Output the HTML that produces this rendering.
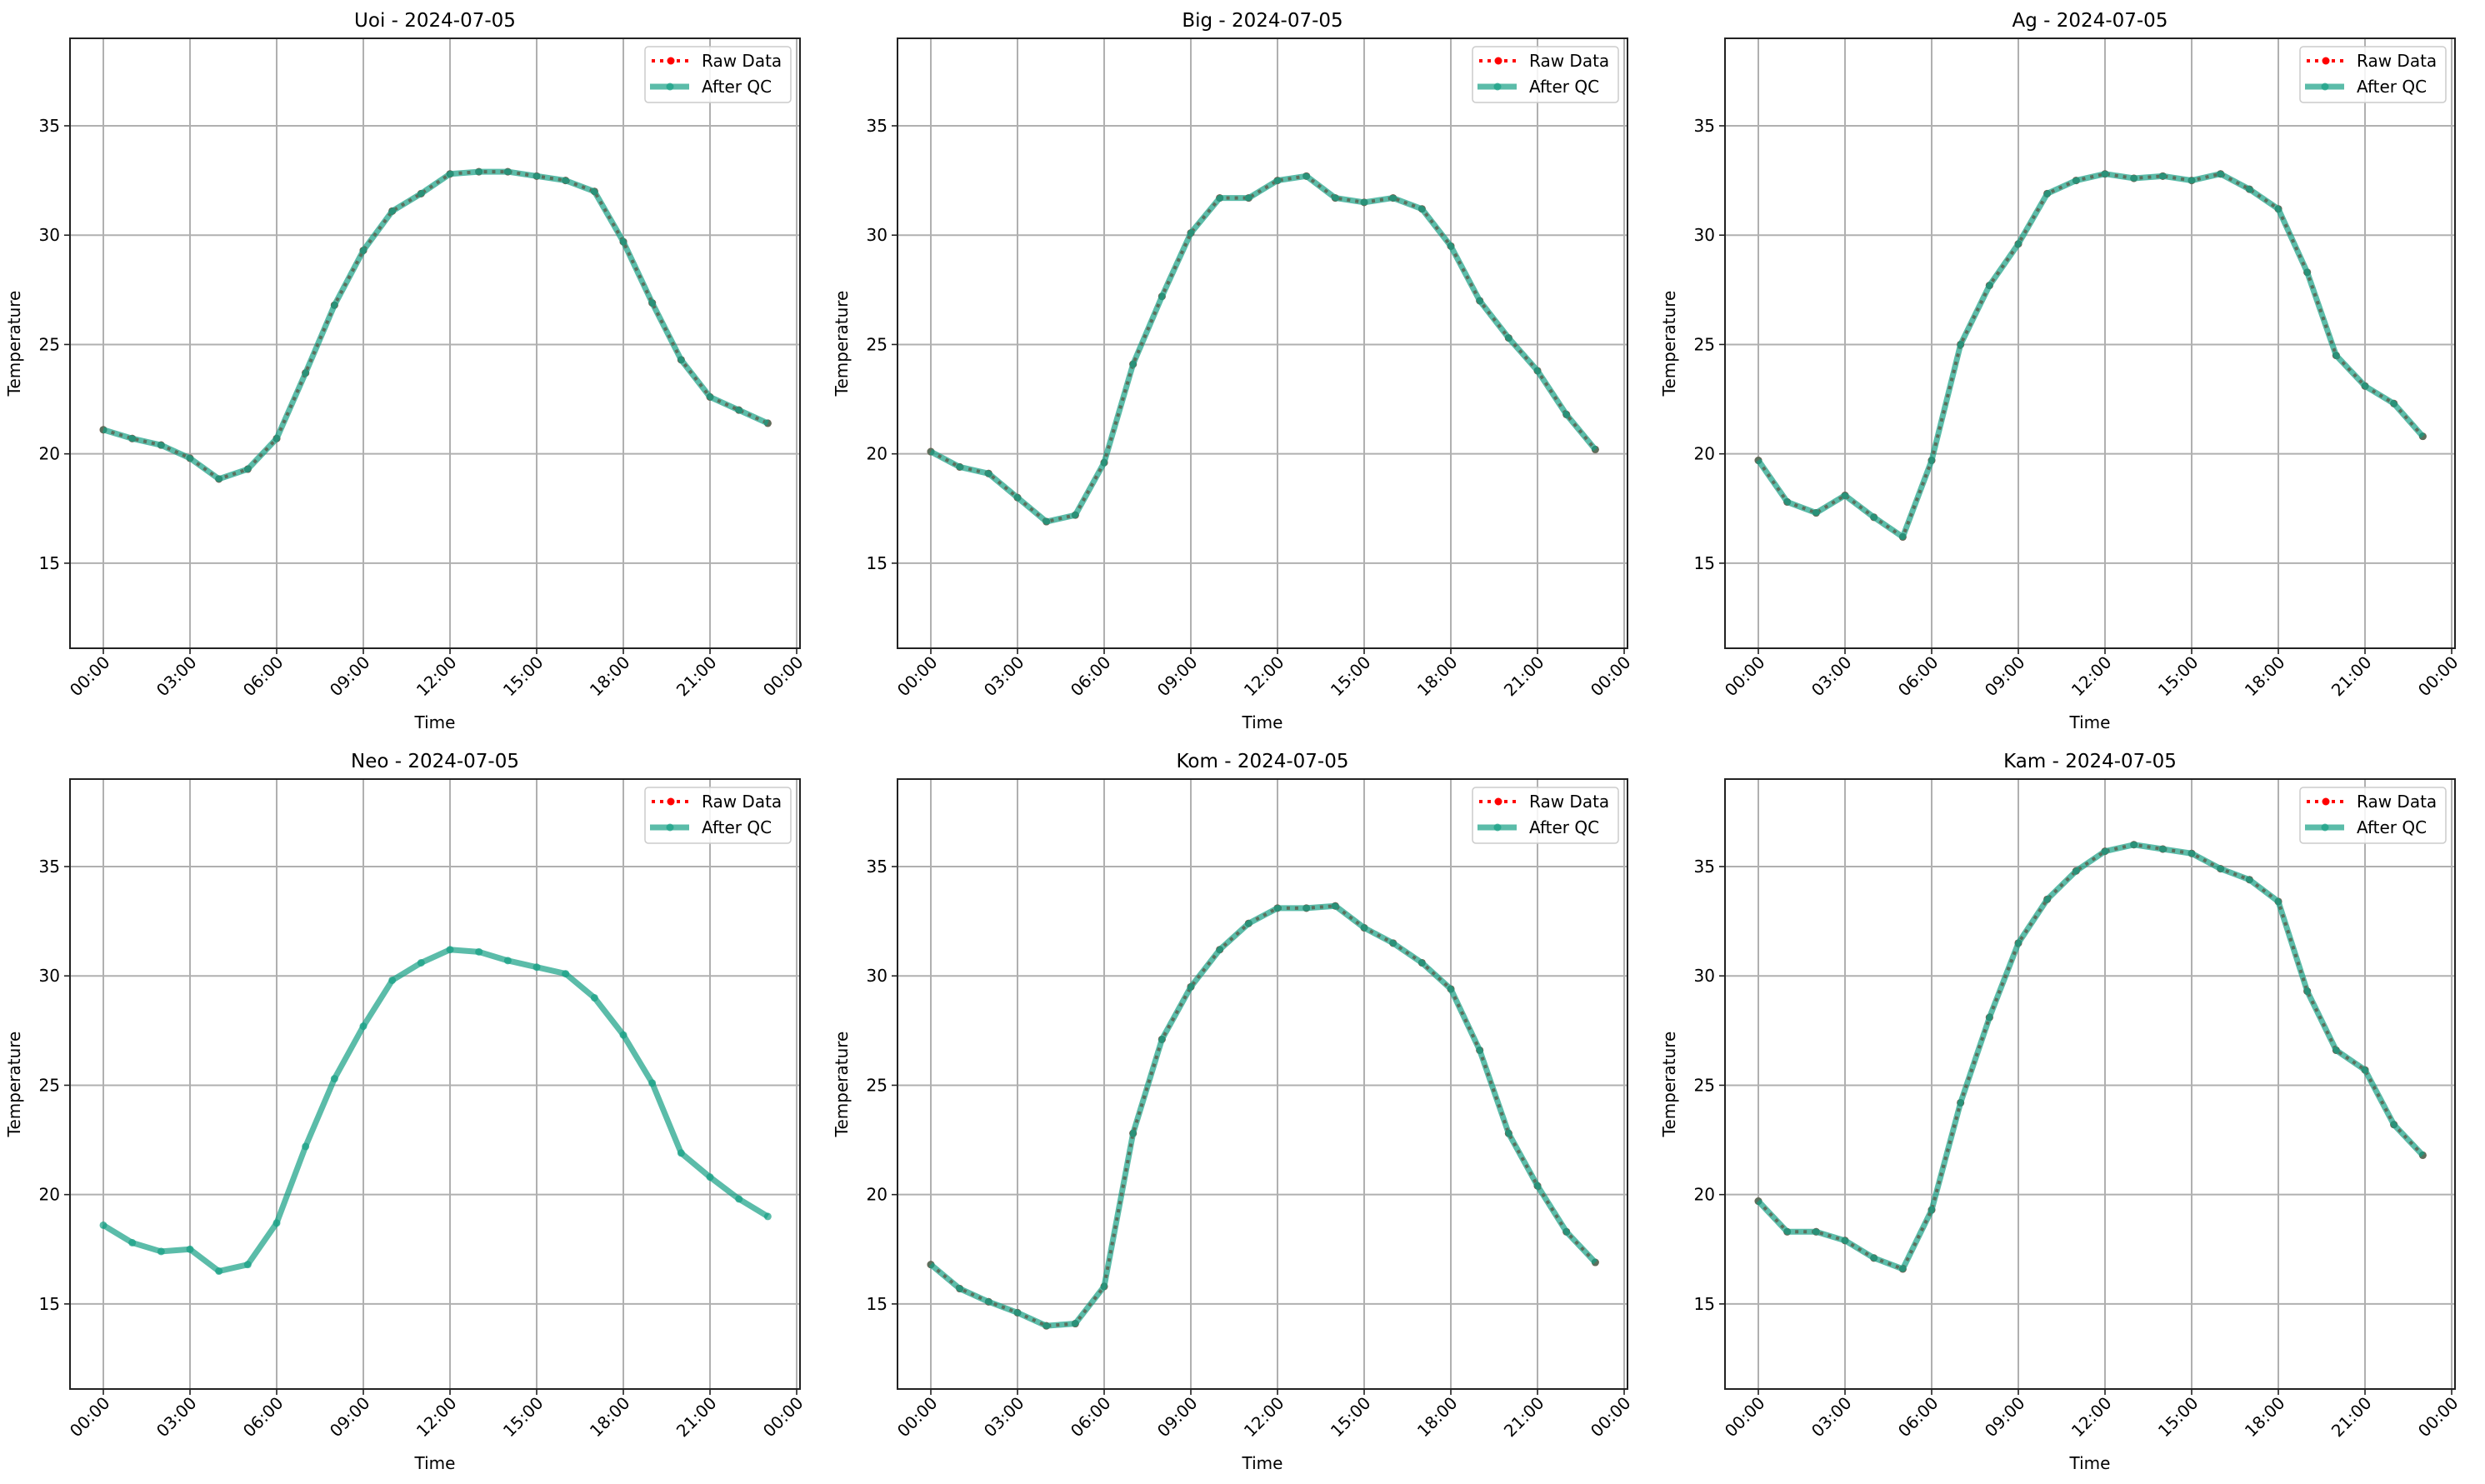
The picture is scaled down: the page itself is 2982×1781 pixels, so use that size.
<!DOCTYPE html>
<html><head><meta charset="utf-8"><style>
html,body{margin:0;padding:0;background:#fff}
svg{display:block;font-family:"DejaVu Sans","Liberation Sans",sans-serif}
</style></head><body>
<svg id="fig" width="2982" height="1781" viewBox="0 0 2982 1781" xmlns="http://www.w3.org/2000/svg"></svg>
<script>
const stations = ["Uoi","Big","Ag","Neo","Kom","Kam"];
const dateLabel = "2024-07-05";
const hours = [0,1,2,3,4,5,6,7,8,9,10,11,12,13,14,15,16,17,18,19,20,21,22,23];
const xTickHours = [0,3,6,9,12,15,18,21,24];
const xTickLabels = ["00:00","03:00","06:00","09:00","12:00","15:00","18:00","21:00","00:00"];
const yTicks = [15,20,25,30,35];
const tempUoi = [21.1,20.7,20.4,19.8,18.85,19.3,20.7,23.7,26.8,29.3,31.1,31.9,32.8,32.9,32.9,32.7,32.5,32.0,29.7,26.9,24.3,22.6,22.0,21.4];
const tempBig = [20.1,19.4,19.1,18.0,16.9,17.2,19.6,24.1,27.2,30.1,31.7,31.7,32.5,32.7,31.7,31.5,31.7,31.2,29.5,27.0,25.3,23.8,21.8,20.2];
const tempAg  = [19.7,17.8,17.3,18.1,17.1,16.2,19.7,25.0,27.7,29.6,31.9,32.5,32.8,32.6,32.7,32.5,32.8,32.1,31.2,28.3,24.5,23.1,22.3,20.8];
const tempNeo = [18.6,17.8,17.4,17.5,16.5,16.8,18.7,22.2,25.3,27.7,29.8,30.6,31.2,31.1,30.7,30.4,30.1,29.0,27.3,25.1,21.9,20.8,19.8,19.0];
const tempKom = [16.8,15.7,15.1,14.6,14.0,14.1,15.8,22.8,27.1,29.5,31.2,32.4,33.1,33.1,33.2,32.2,31.5,30.6,29.4,26.6,22.8,20.4,18.3,16.9];
const tempKam = [19.7,18.3,18.3,17.9,17.1,16.6,19.3,24.2,28.1,31.5,33.5,34.8,35.7,36.0,35.8,35.6,34.9,34.4,33.4,29.3,26.6,25.7,23.2,21.8];
const afterQC = [tempUoi,tempBig,tempAg,tempNeo,tempKom,tempKam];
const rawData = [tempUoi,tempBig,tempAg,[],tempKom,tempKam];

const NS="http://www.w3.org/2000/svg";
const svg=document.getElementById('fig');
function mk(tag,attrs,parent){const e=document.createElementNS(NS,tag);for(const k in attrs)e.setAttribute(k,attrs[k]);(parent||svg).appendChild(e);return e;}
const lefts=[84,1077,2070], tops=[46,935], W=876, H=732;
const xMin=-1.154, xMax=24.115, yMin=11.11, yMax=39.0;

stations.forEach((st,i)=>{
  const L=lefts[i%3], T=tops[Math.floor(i/3)];
  const sx=h=>L+(h-xMin)/(xMax-xMin)*W;
  const sy=v=>T+H-(v-yMin)/(yMax-yMin)*H;
  const g=mk('g',{});
  
  
  xTickHours.forEach((h,k)=>{
    const x=sx(h);
    const gl=mk('line',{x1:x,x2:x,y1:T,y2:T+H,stroke:'#b0b0b0','stroke-width':2},g);
    
    
    mk('line',{x1:x,x2:x,y1:T+H,y2:T+H+7,stroke:'#222','stroke-width':1.6},g);
    const t=mk('text',{x:0,y:0,'font-size':20,'text-anchor':'end',fill:'#000',transform:`translate(${x+9},${T+H+18}) rotate(-45)`},g);
    t.textContent=xTickLabels[k];
    
    
  });
  yTicks.forEach(v=>{
    const y=sy(v);
    const gl=mk('line',{x1:L,x2:L+W,y1:y,y2:y,stroke:'#b0b0b0','stroke-width':2},g);
    
    
    mk('line',{x1:L-7,x2:L,y1:y,y2:y,stroke:'#222','stroke-width':1.6},g);
    const t=mk('text',{x:L-12,y:y+7,'font-size':20,'text-anchor':'end',fill:'#000'},g);
    t.textContent=v;
    
    
  });
  const raw=rawData[i];
  if(raw.length){
    const pts=raw.map((v,k)=>sx(hours[k])+','+sy(v)).join(' ');
    const rl=mk('polyline',{points:pts,fill:'none',stroke:'#ff0000','stroke-width':4,'stroke-dasharray':'4,6'},g);
    
    
    raw.forEach((v,k)=>{
      const c=mk('circle',{cx:sx(hours[k]),cy:sy(v),r:4.5,fill:'#ff0000'},g);
      
      
    });
  }
  const qc=afterQC[i];
  const pts=qc.map((v,k)=>sx(hours[k])+','+sy(v)).join(' ');
  const ql=mk('polyline',{points:pts,fill:'none',stroke:'#16a085','stroke-width':7,'stroke-opacity':0.7,'stroke-linejoin':'round'},g);
  
  
  qc.forEach((v,k)=>{
    const c=mk('circle',{cx:sx(hours[k]),cy:sy(v),r:4.5,fill:'#16a085','fill-opacity':0.7},g);
    
    
  });
  const fr=mk('rect',{x:L,y:T,width:W,height:H,fill:'none',stroke:'#222','stroke-width':2},g);
  
  
  const tt=mk('text',{x:L+W/2,y:T-14,'font-size':23,'text-anchor':'middle',fill:'#000'},g);
  tt.textContent=st+' - '+dateLabel;
  
  
  const xl=mk('text',{x:L+W/2,y:T+H+96,'font-size':20,'text-anchor':'middle',fill:'#000'},g);
  xl.textContent='Time';
  
  
  const yl=mk('text',{x:0,y:0,'font-size':20,'text-anchor':'middle',fill:'#000',transform:`translate(${L-60},${T+H/2}) rotate(-90)`},g);
  yl.textContent='Temperature';
  
  
  const lx=L+W-186, ly=T+10;
  const lg=mk('g',{},g);
  
  
  mk('rect',{x:lx,y:ly,width:175,height:67,rx:4,fill:'#fff','fill-opacity':0.85,stroke:'#ccc','stroke-width':1.5},lg);
  mk('line',{x1:lx+8,x2:lx+54,y1:ly+17,y2:ly+17,stroke:'#ff0000','stroke-width':4,'stroke-dasharray':'4,6'},lg);
  mk('circle',{cx:lx+31,cy:ly+17,r:4.5,fill:'#ff0000'},lg);
  mk('line',{x1:lx+6,x2:lx+53,y1:ly+48,y2:ly+48,stroke:'#16a085','stroke-width':7,'stroke-opacity':0.7},lg);
  mk('circle',{cx:lx+30,cy:ly+48,r:4.5,fill:'#16a085','fill-opacity':0.7},lg);
  const t1=mk('text',{x:lx+68,y:ly+24,'font-size':20,fill:'#000'},lg);
  t1.textContent='Raw Data';
  
  
  const t2=mk('text',{x:lx+68,y:ly+55,'font-size':20,fill:'#000'},lg);
  t2.textContent='After QC';
  
  
});
</script>
</body></html>
